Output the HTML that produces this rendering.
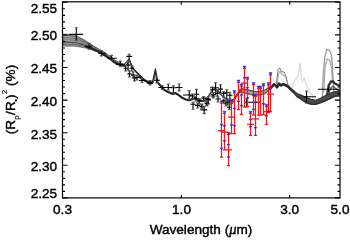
<!DOCTYPE html><html><head><meta charset="utf-8"><style>
html,body{margin:0;padding:0;background:#fff;width:350px;height:241px;overflow:hidden}
svg{display:block;will-change:transform}
.t{font-family:"Liberation Sans",sans-serif;font-size:13.6px;fill:#000;stroke:#000;stroke-width:0.42}
.s{font-size:8px;stroke-width:0.15}
</style></head><body><svg width="350" height="241" viewBox="0 0 350 241"><path d="M62.0,33.3 L63.0,33.4 L64.0,33.4 L65.0,33.5 L66.0,33.5 L67.0,33.6 L68.0,33.7 L69.0,33.8 L70.0,33.9 L71.0,34.0 L72.0,34.2 L73.0,34.4 L74.0,34.6 L75.0,34.9 L76.0,35.2 L77.0,35.5 L78.0,35.9 L79.0,36.4 L80.0,36.9 L81.0,37.4 L82.0,38.0 L83.0,38.6 L84.0,39.2 L85.0,39.8 L86.0,40.5 L87.0,41.2 L88.0,41.8 L89.0,42.5 L90.0,43.2 L91.0,43.9 L92.0,44.5 L93.0,45.2 L94.0,45.8 L95.0,46.4 L96.0,47.0 L97.0,47.6 L98.0,48.2 L99.0,48.7 L100.0,49.3 L101.0,49.9 L102.0,50.5 L103.0,51.2 L104.0,51.9 L105.0,52.5 L106.0,53.2 L107.0,53.9 L108.0,54.6 L109.0,55.3 L110.0,56.1 L111.0,56.8 L112.0,57.6 L113.0,58.4 L114.0,59.2 L115.0,59.9 L116.0,60.5 L117.0,61.1 L118.0,61.7 L119.0,62.2 L120.0,62.7 L121.0,63.1 L122.0,63.5 L123.0,63.9 L124.0,64.2 L125.0,64.4 L125.0,66.5 L124.0,66.3 L123.0,66.1 L122.0,65.9 L121.0,65.6 L120.0,65.3 L119.0,64.9 L118.0,64.5 L117.0,64.1 L116.0,63.6 L115.0,63.0 L114.0,62.4 L113.0,61.7 L112.0,60.9 L111.0,60.2 L110.0,59.5 L109.0,58.8 L108.0,58.1 L107.0,57.5 L106.0,56.8 L105.0,56.2 L104.0,55.5 L103.0,54.9 L102.0,54.4 L101.0,53.8 L100.0,53.3 L99.0,52.9 L98.0,52.5 L97.0,52.0 L96.0,51.6 L95.0,51.2 L94.0,50.8 L93.0,50.4 L92.0,49.9 L91.0,49.6 L90.0,49.2 L89.0,49.0 L88.0,48.7 L87.0,48.5 L86.0,48.4 L85.0,48.2 L84.0,48.0 L83.0,47.8 L82.0,47.6 L81.0,47.5 L80.0,47.3 L79.0,47.2 L78.0,47.0 L77.0,46.9 L76.0,46.8 L75.0,46.7 L74.0,46.6 L73.0,46.6 L72.0,46.6 L71.0,46.5 L70.0,46.5 L69.0,46.5 L68.0,46.5 L67.0,46.5 L66.0,46.5 L65.0,46.5 L64.0,46.5 L63.0,46.5 L62.0,46.5Z" fill="#a8a8a8" stroke="none"/>
<path d="M62.0,35.0 L63.0,35.1 L64.0,35.1 L65.0,35.2 L66.0,35.2 L67.0,35.3 L68.0,35.3 L69.0,35.4 L70.0,35.5 L71.0,35.7 L72.0,35.8 L73.0,36.0 L74.0,36.2 L75.0,36.4 L76.0,36.7 L77.0,37.0 L78.0,37.3 L79.0,37.8 L80.0,38.2 L81.0,38.7 L82.0,39.3 L83.0,39.8 L84.0,40.4 L85.0,40.9 L86.0,41.5 L87.0,42.1 L88.0,42.7 L89.0,43.4 L90.0,44.0 L91.0,44.6 L92.0,45.2 L93.0,45.9 L94.0,46.5 L95.0,47.1 L96.0,47.6 L97.0,48.2 L98.0,48.7 L99.0,49.3 L100.0,49.8 L101.0,50.4 L102.0,51.0 L103.0,51.7 L104.0,52.3 L105.0,53.0 L106.0,53.7 L107.0,54.4 L108.0,55.1 L109.0,55.8 L110.0,56.5 L111.0,57.3 L112.0,58.0 L113.0,58.8 L114.0,59.6 L115.0,60.3 L116.0,60.9 L117.0,61.5 L118.0,62.0 L119.0,62.6 L120.0,63.0 L121.0,63.4 L122.0,63.8 L123.0,64.2 L124.0,64.4 L125.0,64.7" stroke="#5a5a5a" stroke-width="1.1" fill="none"/>
<path d="M62.0,37.5 L63.0,37.6 L64.0,37.6 L65.0,37.7 L66.0,37.7 L67.0,37.7 L68.0,37.8 L69.0,37.8 L70.0,37.9 L71.0,38.0 L72.0,38.2 L73.0,38.3 L74.0,38.5 L75.0,38.6 L76.0,38.9 L77.0,39.1 L78.0,39.5 L79.0,39.8 L80.0,40.2 L81.0,40.6 L82.0,41.1 L83.0,41.5 L84.0,42.0 L85.0,42.5 L86.0,43.0 L87.0,43.5 L88.0,44.0 L89.0,44.6 L90.0,45.1 L91.0,45.7 L92.0,46.3 L93.0,46.8 L94.0,47.4 L95.0,48.0 L96.0,48.5 L97.0,49.0 L98.0,49.6 L99.0,50.1 L100.0,50.6 L101.0,51.2 L102.0,51.8 L103.0,52.4 L104.0,53.0 L105.0,53.7 L106.0,54.4 L107.0,55.1 L108.0,55.7 L109.0,56.4 L110.0,57.2 L111.0,57.9 L112.0,58.7 L113.0,59.4 L114.0,60.2 L115.0,60.9 L116.0,61.5 L117.0,62.1 L118.0,62.6 L119.0,63.1 L120.0,63.5 L121.0,63.9 L122.0,64.3 L123.0,64.6 L124.0,64.9 L125.0,65.0" stroke="#6a6a6a" stroke-width="1.1" fill="none"/>
<path d="M62.0,39.7 L63.0,39.7 L64.0,39.7 L65.0,39.7 L66.0,39.8 L67.0,39.8 L68.0,39.8 L69.0,39.9 L70.0,39.9 L71.0,40.0 L72.0,40.1 L73.0,40.3 L74.0,40.4 L75.0,40.5 L76.0,40.7 L77.0,41.0 L78.0,41.2 L79.0,41.6 L80.0,41.9 L81.0,42.3 L82.0,42.6 L83.0,43.0 L84.0,43.4 L85.0,43.8 L86.0,44.3 L87.0,44.7 L88.0,45.1 L89.0,45.6 L90.0,46.1 L91.0,46.6 L92.0,47.1 L93.0,47.7 L94.0,48.2 L95.0,48.7 L96.0,49.2 L97.0,49.7 L98.0,50.2 L99.0,50.7 L100.0,51.2 L101.0,51.8 L102.0,52.4 L103.0,53.0 L104.0,53.6 L105.0,54.3 L106.0,55.0 L107.0,55.6 L108.0,56.3 L109.0,57.0 L110.0,57.7 L111.0,58.4 L112.0,59.2 L113.0,60.0 L114.0,60.7 L115.0,61.4 L116.0,62.0 L117.0,62.5 L118.0,63.0 L119.0,63.5 L120.0,63.9 L121.0,64.3 L122.0,64.7 L123.0,65.0 L124.0,65.2 L125.0,65.4" stroke="#7a7a7a" stroke-width="1.1" fill="none"/>
<path d="M62.0,42.0 L63.0,42.0 L64.0,42.1 L65.0,42.1 L66.0,42.1 L67.0,42.1 L68.0,42.1 L69.0,42.2 L70.0,42.2 L71.0,42.3 L72.0,42.4 L73.0,42.5 L74.0,42.5 L75.0,42.7 L76.0,42.8 L77.0,43.0 L78.0,43.2 L79.0,43.5 L80.0,43.8 L81.0,44.1 L82.0,44.4 L83.0,44.7 L84.0,45.0 L85.0,45.3 L86.0,45.7 L87.0,46.0 L88.0,46.4 L89.0,46.8 L90.0,47.2 L91.0,47.6 L92.0,48.1 L93.0,48.6 L94.0,49.1 L95.0,49.6 L96.0,50.1 L97.0,50.5 L98.0,51.0 L99.0,51.5 L100.0,52.0 L101.0,52.5 L102.0,53.1 L103.0,53.7 L104.0,54.3 L105.0,54.9 L106.0,55.6 L107.0,56.3 L108.0,56.9 L109.0,57.6 L110.0,58.3 L111.0,59.0 L112.0,59.8 L113.0,60.6 L114.0,61.3 L115.0,61.9 L116.0,62.5 L117.0,63.1 L118.0,63.6 L119.0,64.0 L120.0,64.4 L121.0,64.8 L122.0,65.1 L123.0,65.4 L124.0,65.6 L125.0,65.8" stroke="#3a3a3a" stroke-width="1.1" fill="none"/>
<path d="M62.0,44.1 L63.0,44.1 L64.0,44.1 L65.0,44.2 L66.0,44.2 L67.0,44.2 L68.0,44.2 L69.0,44.2 L70.0,44.2 L71.0,44.3 L72.0,44.3 L73.0,44.4 L74.0,44.5 L75.0,44.6 L76.0,44.7 L77.0,44.8 L78.0,45.0 L79.0,45.2 L80.0,45.4 L81.0,45.7 L82.0,45.9 L83.0,46.2 L84.0,46.4 L85.0,46.7 L86.0,46.9 L87.0,47.2 L88.0,47.5 L89.0,47.8 L90.0,48.2 L91.0,48.5 L92.0,49.0 L93.0,49.4 L94.0,49.9 L95.0,50.3 L96.0,50.8 L97.0,51.3 L98.0,51.7 L99.0,52.1 L100.0,52.6 L101.0,53.1 L102.0,53.7 L103.0,54.3 L104.0,54.9 L105.0,55.5 L106.0,56.2 L107.0,56.8 L108.0,57.5 L109.0,58.2 L110.0,58.9 L111.0,59.6 L112.0,60.3 L113.0,61.1 L114.0,61.8 L115.0,62.4 L116.0,63.0 L117.0,63.5 L118.0,64.0 L119.0,64.4 L120.0,64.8 L121.0,65.2 L122.0,65.5 L123.0,65.7 L124.0,65.9 L125.0,66.1" stroke="#606060" stroke-width="1.1" fill="none"/>
<path d="M62.0,45.8 L63.0,45.8 L64.0,45.8 L65.0,45.8 L66.0,45.9 L67.0,45.9 L68.0,45.9 L69.0,45.9 L70.0,45.9 L71.0,45.9 L72.0,45.9 L73.0,46.0 L74.0,46.0 L75.0,46.1 L76.0,46.2 L77.0,46.3 L78.0,46.5 L79.0,46.6 L80.0,46.8 L81.0,47.0 L82.0,47.2 L83.0,47.4 L84.0,47.6 L85.0,47.8 L86.0,48.0 L87.0,48.2 L88.0,48.4 L89.0,48.6 L90.0,48.9 L91.0,49.3 L92.0,49.7 L93.0,50.1 L94.0,50.5 L95.0,51.0 L96.0,51.4 L97.0,51.8 L98.0,52.3 L99.0,52.7 L100.0,53.1 L101.0,53.6 L102.0,54.2 L103.0,54.7 L104.0,55.4 L105.0,56.0 L106.0,56.6 L107.0,57.3 L108.0,57.9 L109.0,58.6 L110.0,59.3 L111.0,60.0 L112.0,60.8 L113.0,61.5 L114.0,62.2 L115.0,62.9 L116.0,63.4 L117.0,63.9 L118.0,64.4 L119.0,64.8 L120.0,65.2 L121.0,65.5 L122.0,65.8 L123.0,66.0 L124.0,66.2 L125.0,66.4" stroke="#7a7a7a" stroke-width="1.1" fill="none"/>
<path d="M276.4,84.0 L277.3,76.0 L278.1,69.5 L279.6,67.8 L281.6,72.0 L284.0,71.8 L286.0,76.3 L288.0,85.0" stroke="#777" stroke-width="1.0" fill="none"/>
<path d="M277.0,86.0 L278.6,74.0 L280.0,71.0 L281.8,75.0 L284.0,75.0 L286.2,79.0 L288.3,86.0" stroke="#999" stroke-width="0.9" fill="none"/>
<path d="M291.8,88.0 L294.0,82.0 L296.2,77.8 L298.0,76.5 L300.0,63.3 L302.0,80.7 L304.3,77.8 L306.3,85.0 L309.2,92.3 L313.6,96.7" stroke="#c4c4c4" stroke-width="0.8" fill="none"/>
<path d="M289.0,86.0 L292.0,84.0 L295.0,80.0 L297.0,79.0 L299.0,72.0 L300.5,68.0 L302.0,82.0 L305.0,81.0 L308.0,88.0 L311.0,93.0 L315.0,97.0" stroke="#e0e0e0" stroke-width="0.8" fill="none"/>
<path d="M322.3,98.0 L323.2,74.9 L324.7,57.4 L326.7,49.3 L329.6,50.2 L331.6,56.0 L332.5,69.0 L333.4,83.6 L334.0,95.0" stroke="#999" stroke-width="1.3" fill="none"/>
<path d="M323.8,92.3 L325.2,66.2 L327.3,58.9 L329.6,60.3 L331.6,67.6 L332.5,83.6" stroke="#a5a5a5" stroke-width="1.2" fill="none"/>
<path d="M327.0,95.0 L329.0,85.0 L331.0,81.5 L333.0,81.5 L335.0,83.5 L338.0,85.0 L340.0,86.0" stroke="#333" stroke-width="2.3" fill="none"/>
<path d="M329.0,92.0 L331.0,88.0 L333.0,86.0 L335.0,88.0 L338.0,90.0 L340.0,91.0" stroke="#666" stroke-width="1.5" fill="none"/>
<path d="M238.0,91.5 L240.5,89.5 L245.0,89.5 L250.0,90.5 L255.0,91.7 L260.0,91.7 L265.0,90.0 L268.0,88.2 L270.0,87.2 L270.0,88.8 L268.0,90.5 L265.0,93.5 L260.0,95.0 L255.0,95.0 L250.0,94.2 L245.0,93.0 L240.5,92.0 L238.0,93.5Z" fill="#a8a8a8" stroke="none"/>
<path d="M238.0,91.5 L240.5,89.5 L245.0,89.5 L250.0,90.5 L255.0,91.7 L260.0,91.7 L265.0,90.0 L268.0,88.2 L270.0,87.2" stroke="#555" stroke-width="1.3" fill="none" stroke-linejoin="round"/>
<path d="M238.0,93.5 L240.5,92.0 L245.0,93.0 L250.0,94.2 L255.0,95.0 L260.0,95.0 L265.0,93.5 L268.0,90.5 L270.0,88.8" stroke="#666" stroke-width="1.5" fill="none" stroke-linejoin="round"/>
<path d="M205.0,100.5 L208.0,97.0 L212.5,90.0 L215.0,88.8 L218.0,90.5 L221.0,94.7 L224.0,97.5 L227.4,99.7 L231.0,101.5 L234.0,99.0 L238.0,93.0 L240.5,90.5" stroke="#444" stroke-width="1.5" fill="none" stroke-linejoin="round"/>
<path d="M268.0,89.0 L272.0,86.8 L274.0,84.2 L275.5,85.5 L277.0,87.3 L279.0,83.7 L281.0,85.5 L283.0,84.2 L285.4,85.0 L288.0,86.5 L291.0,89.5 L294.0,92.0" stroke="#2a2a2a" stroke-width="2.6" fill="none" stroke-linejoin="round"/>
<path d="M291.0,88.8 L294.0,91.0 L297.0,93.5 L301.0,95.1 L306.0,97.3 L311.0,99.3 L316.0,100.3 L321.0,98.1 L326.0,95.3 L330.0,93.3 L334.0,91.8 L340.0,90.8 L340.0,95.8 L334.0,96.5 L330.0,98.5 L326.0,100.5 L321.0,102.6 L316.0,104.3 L311.0,104.3 L306.0,102.5 L301.0,99.0 L297.0,96.5 L294.0,93.0 L291.0,90.5Z" fill="#4a4a4a" stroke="none"/>
<path d="M291.0,88.8 L294.0,91.0 L297.0,93.5 L301.0,95.1 L306.0,97.3 L311.0,99.3 L316.0,100.3 L321.0,98.1 L326.0,95.3 L330.0,93.3 L334.0,91.8 L340.0,90.8" stroke="#3a3a3a" stroke-width="1.3" fill="none" stroke-linejoin="round"/>
<path d="M291.0,90.5 L294.0,93.0 L297.0,96.5 L301.0,99.0 L306.0,102.5 L311.0,104.3 L316.0,104.3 L321.0,102.6 L326.0,100.5 L330.0,98.5 L334.0,96.5 L340.0,95.8" stroke="#333" stroke-width="1.6" fill="none" stroke-linejoin="round"/>
<path d="M86.0,46.7 L87.0,46.9 L88.0,47.2 L89.0,47.6 L90.0,47.9 L91.0,48.3 L92.0,48.7 L93.0,49.2 L94.0,49.6 L95.0,50.0 L96.0,50.5 L97.0,50.9 L98.0,51.4 L99.0,51.8 L100.0,52.4 L101.0,52.9 L102.0,53.6 L103.0,54.2 L104.0,54.9 L105.0,55.5 L106.0,56.2 L107.0,56.9 L108.0,57.5 L109.0,58.1 L110.0,58.9 L111.0,59.6 L112.0,60.5 L113.0,61.3 L114.0,62.1 L115.0,62.7 L116.0,63.2 L117.0,63.8 L118.0,64.2 L119.0,64.5 L120.0,64.8 L121.0,65.0 L122.0,65.3 L123.0,65.5 L124.0,65.6 L125.0,65.7" stroke="#222" stroke-width="2.0" fill="none" stroke-linejoin="round" stroke-linecap="round"/>
<path d="M139.0,76.8 L145.0,80.6 L150.0,82.9 L152.8,81.8" stroke="#222" stroke-width="2.3" fill="none" stroke-linejoin="round" stroke-linecap="round"/>
<path d="M158.5,83.5 L160.0,84.9 L162.0,88.0 L165.0,90.4 L169.3,92.6 L172.7,93.9 L175.3,93.0 L178.7,95.1 L182.1,97.7 L185.6,99.4 L189.0,100.3 L192.4,99.0 L195.0,98.1 L199.2,100.3 L203.0,101.0 L205.0,100.5" stroke="#222" stroke-width="2.1" fill="none" stroke-linejoin="round" stroke-linecap="round"/>
<path d="M123.0,66.0 L129.0,59.0 L131.5,66.5 L136.0,72.0 L143.0,78.5" stroke="#2a2a2a" stroke-width="1.15" fill="none" stroke-linejoin="round"/>
<path d="M125.0,66.5 L129.5,60.5 L134.0,69.5 L139.0,74.5 L145.0,80.2" stroke="#2a2a2a" stroke-width="1.15" fill="none" stroke-linejoin="round"/>
<path d="M152.5,81.8 L155.4,68.8 L158.0,82.7 L160.0,85.3" stroke="#2a2a2a" stroke-width="1.15" fill="none" stroke-linejoin="round"/>
<path d="M153.8,80.0 L155.4,71.5 L156.8,80.0" stroke="#2a2a2a" stroke-width="1.15" fill="none" stroke-linejoin="round"/>
<path d="M69.1,34.4H83.1M76.3,27.7V40.6M85.6,46.3H92.0M89.1,43.4V49.1M98.1,53.3H106.4M101.4,50.7V55.9M107.4,58.3H116.8M111.6,55.4V60.0M115.7,64.2H124.6M120.4,61.1V66.8M126.4,56.4H132.1M129.2,54.3V60.7M123.5,68.3H128.0M125.6,66.0V71.0M126.5,65.1H130.0M128.1,62.0V70.0M127.5,73.9H131.5M129.4,71.0V77.0M129.5,68.3H134.0M131.9,66.0V71.0M131.0,75.1H135.5M133.1,72.0V78.0M132.5,78.3H136.5M134.4,76.0V81.0M135.0,77.5H139.0M137.0,75.0V80.0M139.0,80.5H145.0M142.0,78.5V82.5M147.0,83.1H153.0M150.0,80.6V84.9M153.6,80.3H160.0M156.7,78.0V83.0M158.5,87.5H166.0M162.3,85.7V89.5M165.0,87.5H172.0M168.3,84.0V90.0M170.5,87.8H176.5M173.4,85.7V92.6M175.5,87.5H182.5M179.1,84.0V90.9M183.0,95.0H191.5M189.2,90.6V99.3M193.6,94.3H199.2M196.4,89.4V100.0M190.5,104.3H195.5M193.0,102.4V109.3M197.0,101.2H202.0M199.2,98.5V104.0M201.5,98.1H206.0M203.5,96.5V101.0M200.4,109.9H207.3M204.2,106.8V113.6M199.5,106.8H204.0M201.7,104.5V109.0M206.0,99.9H211.0M208.5,97.0V104.0M204.5,103.0H209.0M206.7,101.0V105.5M205.0,99.0H210.5M207.5,97.5V101.0M210.0,89.7H215.0M212.5,87.0V92.5M210.0,87.8H218.7M215.6,82.8V92.2M218.0,89.1H223.0M220.6,84.7V93.4M221.5,93.4H226.0M223.7,91.5V97.0M224.5,92.8H229.0M226.8,89.7V100.3M227.5,95.3H232.5M229.9,92.2V100.9M221.5,100.9H226.0M223.7,99.0V103.0M225.0,102.8H230.0M227.4,101.0V105.0M211.0,94.5H216.0M213.5,92.5V97.0M190.0,96.0H195.0M192.4,94.0V98.5M193.5,98.6H198.5M195.9,96.5V101.0M197.0,101.2H202.0M199.3,99.0V103.5M195.0,105.4H200.0M197.6,103.0V108.0M199.5,106.3H204.5M201.9,104.0V108.5M204.5,103.7H209.5M207.0,101.5V106.0M210.5,96.0H215.5M213.0,94.0V98.0M215.0,93.4H220.0M217.3,91.0V96.0M223.5,103.7H228.5M225.9,101.5V106.0M227.0,107.2H232.0M229.3,105.0V109.5M225.0,101.2H230.0M227.6,99.0V103.5M244.0,102.3H260.5M246.7,98.7V107.0M215.5,99.0H221.0M218.0,97.0V102.0M227.0,101.5H233.0M230.0,99.0V104.0M303.0,96.7H316.0M306.5,91.0V103.0M318.0,89.2H339.0M328.5,86.0V92.5" stroke="#000" stroke-width="1.1" fill="none"/>
<path d="M74.8,27.7h3M74.8,40.6h3M87.6,43.4h3M87.6,49.1h3M99.9,50.7h3M99.9,55.9h3M110.1,55.4h3M110.1,60.0h3M118.9,61.1h3M118.9,66.8h3M127.7,54.3h3M127.7,60.7h3M124.1,66.0h3M124.1,71.0h3M126.6,62.0h3M126.6,70.0h3M127.9,71.0h3M127.9,77.0h3M130.4,66.0h3M130.4,71.0h3M131.6,72.0h3M131.6,78.0h3M132.9,76.0h3M132.9,81.0h3M135.5,75.0h3M135.5,80.0h3M140.5,78.5h3M140.5,82.5h3M148.5,80.6h3M148.5,84.9h3M155.2,78.0h3M155.2,83.0h3M160.8,85.7h3M160.8,89.5h3M166.8,84.0h3M166.8,90.0h3M171.9,85.7h3M171.9,92.6h3M177.6,84.0h3M177.6,90.9h3M187.7,90.6h3M187.7,99.3h3M194.9,89.4h3M194.9,100.0h3M191.5,102.4h3M191.5,109.3h3M197.7,98.5h3M197.7,104.0h3M202.0,96.5h3M202.0,101.0h3M202.7,106.8h3M202.7,113.6h3M200.2,104.5h3M200.2,109.0h3M207.0,97.0h3M207.0,104.0h3M205.2,101.0h3M205.2,105.5h3M206.0,97.5h3M206.0,101.0h3M211.0,87.0h3M211.0,92.5h3M214.1,82.8h3M214.1,92.2h3M219.1,84.7h3M219.1,93.4h3M222.2,91.5h3M222.2,97.0h3M225.3,89.7h3M225.3,100.3h3M228.4,92.2h3M228.4,100.9h3M222.2,99.0h3M222.2,103.0h3M225.9,101.0h3M225.9,105.0h3M212.0,92.5h3M212.0,97.0h3M190.9,94.0h3M190.9,98.5h3M194.4,96.5h3M194.4,101.0h3M197.8,99.0h3M197.8,103.5h3M196.1,103.0h3M196.1,108.0h3M200.4,104.0h3M200.4,108.5h3M205.5,101.5h3M205.5,106.0h3M211.5,94.0h3M211.5,98.0h3M215.8,91.0h3M215.8,96.0h3M224.4,101.5h3M224.4,106.0h3M227.8,105.0h3M227.8,109.5h3M226.1,99.0h3M226.1,103.5h3M245.2,98.7h3M245.2,107.0h3M216.5,97.0h3M216.5,102.0h3M228.5,99.0h3M228.5,104.0h3M305.0,91.0h3M305.0,103.0h3M327.0,86.0h3M327.0,92.5h3" stroke="#555" stroke-width="1.1" fill="none"/>
<path d="M232.0,104.0 L234.0,100.9 L240.5,90.0 L244.0,87.5" stroke="#f00" stroke-width="1.0" fill="none"/>
<path d="M221.5,101.7V157.0M219.9,157.0h3.2M219.9,103.0h3.2M218.0,130.7h7M224.5,112.1V149.9M222.9,149.9h3.2M222.9,113.4h3.2M221.0,132.2h7M228.5,133.3V165.5M226.9,165.5h3.2M226.9,134.6h3.2M225.0,149.9h7M231.5,100.6V133.5M229.9,133.5h3.2M229.9,101.9h3.2M228.0,117.0h7M228.0,133.5h7M234.5,91.5V133.5M232.9,133.5h3.2M232.9,92.8h3.2M238.5,81.0V109.7M236.9,109.7h3.2M236.9,82.3h3.2M241.5,84.9V114.3M239.9,114.3h3.2M239.9,86.2h3.2M244.5,67.0V107.0M242.9,107.0h3.2M242.9,68.3h3.2M241.0,83.2h7M247.5,77.9V106.3M245.9,106.3h3.2M245.9,79.2h3.2M250.5,112.1V135.3M248.9,135.3h3.2M248.9,113.4h3.2M247.0,124.3h7M253.5,83.4V115.0M251.9,115.0h3.2M251.9,84.7h3.2M255.5,95.0V135.3M253.9,135.3h3.2M253.9,96.3h3.2M252.0,118.9h7M258.5,87.0V115.0M256.9,115.0h3.2M256.9,88.3h3.2M260.5,87.1V115.0M258.9,115.0h3.2M258.9,88.4h3.2M263.5,84.4V114.5M261.9,114.5h3.2M261.9,85.7h3.2M266.5,105.1V124.3M264.9,124.3h3.2M264.9,106.4h3.2M263.0,111.5h7M268.5,83.5V112.5M266.9,112.5h3.2M266.9,84.8h3.2M270.5,73.5V111.5M268.9,111.5h3.2M268.9,74.8h3.2M267.0,94.0h7" stroke="#f11" stroke-width="1.25" fill="none"/>
<path d="M219.9,100.8h3.2l-1.6,1.9ZM219.9,124.3h3.2l-1.6,1.3ZM219.9,148.1h3.2l-1.6,1.3ZM222.9,111.2h3.2l-1.6,1.9ZM222.9,125.6h3.2l-1.6,1.3ZM222.9,140.6h3.2l-1.6,1.3ZM226.9,132.4h3.2l-1.6,1.9ZM226.9,144.4h3.2l-1.6,1.3ZM226.9,156.8h3.2l-1.6,1.3ZM229.9,99.7h3.2l-1.6,1.9ZM229.9,124.7h3.2l-1.6,1.3ZM232.9,90.6h3.2l-1.6,1.9ZM232.9,108.2h3.2l-1.6,1.3ZM232.9,125.4h3.2l-1.6,1.3ZM236.9,80.1h3.2l-1.6,1.9ZM236.9,100.9h3.2l-1.6,1.3ZM239.9,84.0h3.2l-1.6,1.9ZM239.9,94.8h3.2l-1.6,1.3ZM239.9,105.4h3.2l-1.6,1.3ZM242.9,66.1h3.2l-1.6,1.9ZM242.9,77.6h3.2l-1.6,1.3ZM245.9,77.0h3.2l-1.6,1.9ZM245.9,87.4h3.2l-1.6,1.3ZM245.9,97.8h3.2l-1.6,1.3ZM248.9,111.2h3.2l-1.6,1.9ZM248.9,119.2h3.2l-1.6,1.3ZM248.9,126.5h3.2l-1.6,1.3ZM251.9,82.5h3.2l-1.6,1.9ZM251.9,95.1h3.2l-1.6,1.3ZM251.9,109.1h3.2l-1.6,1.3ZM253.9,94.1h3.2l-1.6,1.9ZM253.9,101.8h3.2l-1.6,1.3ZM253.9,127.4h3.2l-1.6,1.3ZM256.9,86.1h3.2l-1.6,1.9ZM258.9,86.2h3.2l-1.6,1.9ZM261.9,83.5h3.2l-1.6,1.9ZM261.9,103.6h3.2l-1.6,1.3ZM264.9,104.2h3.2l-1.6,1.9ZM264.9,115.5h3.2l-1.6,1.3ZM266.9,82.6h3.2l-1.6,1.9ZM266.9,110.9h3.2l-1.6,1.3ZM268.9,72.6h3.2l-1.6,1.9ZM268.9,88.4h3.2l-1.6,1.3Z" fill="#2222ee" stroke="#2222ee" stroke-width="0.5"/>
<rect x="62.5" y="1.8" width="277.5" height="196.1" fill="none" stroke="#000" stroke-width="1.2"/>
<path d="M62.5,197.90h5M340.0,197.90h-5M62.5,191.38h2.5M340.0,191.38h-2.5M62.5,184.86h2.5M340.0,184.86h-2.5M62.5,178.34h2.5M340.0,178.34h-2.5M62.5,171.82h2.5M340.0,171.82h-2.5M62.5,165.30h5M340.0,165.30h-5M62.5,158.78h2.5M340.0,158.78h-2.5M62.5,152.26h2.5M340.0,152.26h-2.5M62.5,145.74h2.5M340.0,145.74h-2.5M62.5,139.22h2.5M340.0,139.22h-2.5M62.5,132.70h5M340.0,132.70h-5M62.5,126.18h2.5M340.0,126.18h-2.5M62.5,119.66h2.5M340.0,119.66h-2.5M62.5,113.14h2.5M340.0,113.14h-2.5M62.5,106.62h2.5M340.0,106.62h-2.5M62.5,100.10h5M340.0,100.10h-5M62.5,93.58h2.5M340.0,93.58h-2.5M62.5,87.06h2.5M340.0,87.06h-2.5M62.5,80.54h2.5M340.0,80.54h-2.5M62.5,74.02h2.5M340.0,74.02h-2.5M62.5,67.50h5M340.0,67.50h-5M62.5,60.98h2.5M340.0,60.98h-2.5M62.5,54.46h2.5M340.0,54.46h-2.5M62.5,47.94h2.5M340.0,47.94h-2.5M62.5,41.42h2.5M340.0,41.42h-2.5M62.5,34.90h5M340.0,34.90h-5M62.5,28.38h2.5M340.0,28.38h-2.5M62.5,21.86h2.5M340.0,21.86h-2.5M62.5,15.34h2.5M340.0,15.34h-2.5M62.5,8.82h2.5M340.0,8.82h-2.5M62.5,2.30h5M340.0,2.30h-5M181.30,197.9v-3M181.30,1.8v3M289.70,197.9v-3M289.70,1.8v3" stroke="#000" stroke-width="1.1" fill="none"/>
<text x="57.2" y="13.0" text-anchor="end" class="t">2.55</text>
<text x="57.2" y="40.4" text-anchor="end" class="t">2.50</text>
<text x="57.2" y="73.3" text-anchor="end" class="t">2.45</text>
<text x="57.2" y="106.3" text-anchor="end" class="t">2.40</text>
<text x="57.2" y="138.9" text-anchor="end" class="t">2.35</text>
<text x="57.2" y="170.7" text-anchor="end" class="t">2.30</text>
<text x="57.2" y="197.9" text-anchor="end" class="t">2.25</text>
<text x="62.5" y="213.8" text-anchor="middle" class="t">0.3</text>
<text x="181.5" y="213.8" text-anchor="middle" class="t">1.0</text>
<text x="289.7" y="213.8" text-anchor="middle" class="t">3.0</text>
<text x="340" y="213.8" text-anchor="middle" class="t">5.0</text>
<text x="201" y="234.2" text-anchor="middle" class="t">Wavelength (<tspan font-style="italic" font-family="Liberation Serif" font-size="14.5px">μ</tspan>m)</text>
<text transform="translate(15.3,99.5) rotate(-90)" text-anchor="middle" class="t">(R<tspan class="s" dy="4">p</tspan><tspan dy="-4" dx="0.5">/R</tspan><tspan class="s" dy="3" dx="-0.5">•</tspan><tspan dy="-3">)</tspan><tspan class="s" dy="-8" dx="0.3">2</tspan><tspan dy="8"> (%)</tspan></text></svg></body></html>
